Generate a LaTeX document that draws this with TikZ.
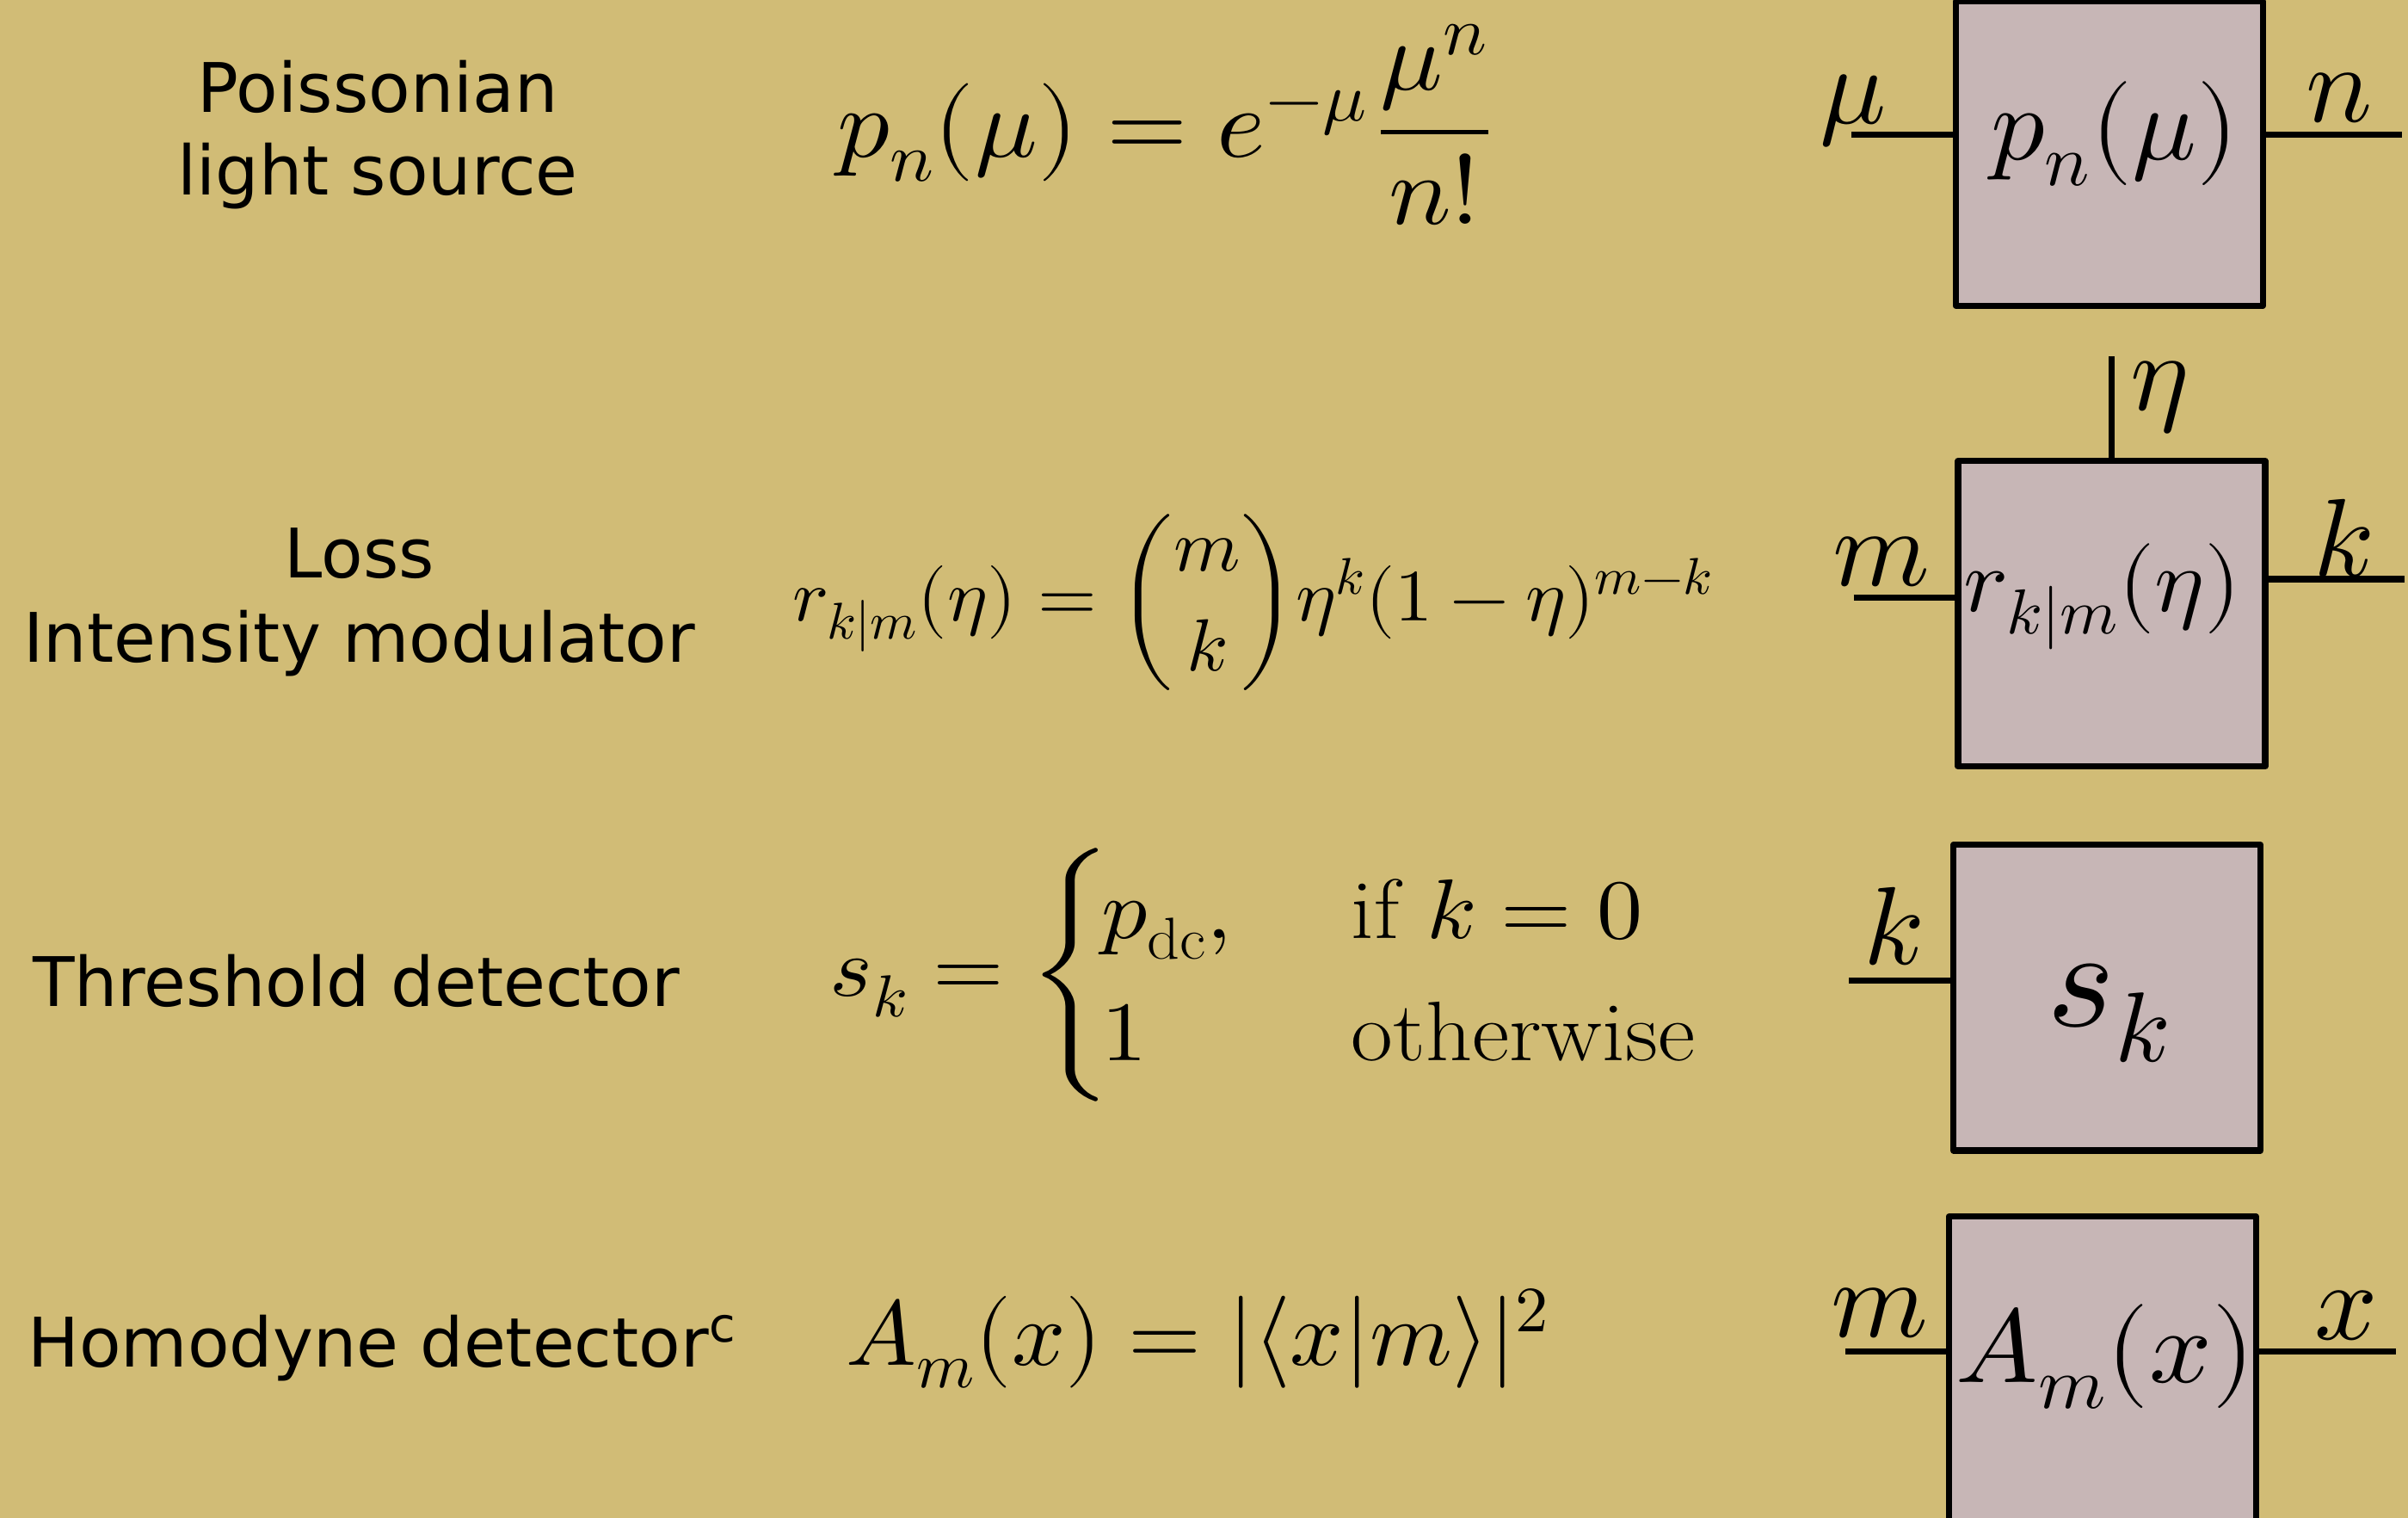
\documentclass[tikz,border=0pt]{standalone}
\usepackage{amsmath}
\usepackage{fontspec}
\usepackage{unicode-math}
\setmathfont{Latin Modern Math}
\newfontfamily\labfont{DejaVu Sans}
\definecolor{bg}{RGB}{209,188,118}
\definecolor{boxfill}{RGB}{199,182,182}
\begin{document}
\begin{tikzpicture}[x=1pt,y=-1pt,
  lab/.style={font=\labfont\fontsize{44.5}{54}\selectfont, inner sep=0, anchor=base},
  eqn/.style={inner sep=0, anchor=base west},
  boxtxt/.style={inner sep=0, anchor=base},
  port/.style={inner sep=0, anchor=base, font=\fontsize{72}{86}\selectfont},
  blk/.style={draw=black, fill=boxfill, line width=4pt, line join=round, inner sep=0, minimum width=200pt, minimum height=199pt},
  wire/.style={draw=black, line width=4pt}
]
\useasboundingbox (0,0) rectangle (1568,988);
\fill[bg] (0,0) rectangle (1568,988);

% left labels
\node[lab] (l1a) at (246,73) {Poissonian};
\node[lab] (l1b) at (246,127) {light source};
\node[lab] (l2a) at (234,376) {Loss};
\node[lab] (l2b) at (234,431) {Intensity modulator};
\node[lab] (l3) at (232,655) {Threshold detector};
\node[lab, anchor=base west] (l4) at (18,890) {Homodyne detector\textsuperscript{c}};

% equations
\node[eqn, xscale=1.06, font=\fontsize{64}{77}\selectfont] (e1) at (545,102)
  {$\displaystyle p_n(\mu) = e^{-\mu}\mkern2mu\frac{\mu^n}{n!}$};
\node[eqn, xscale=1.03, font=\fontsize{48}{58}\selectfont] (e2) at (516,404)
  {$\displaystyle r_{k|m}(\eta) = \binom{m}{k}\eta^k(1-\eta)^{m-k}$};
\node[eqn, xscale=1.08, font=\fontsize{55}{66}\selectfont] (e3) at (540,648.5)
  {$s_k = \left\lbrace\mkern-2mu\def\arraystretch{1.2}\begin{array}{@{}l@{\hspace{1.31em}}l@{}} p_{\mathrm{dc}}, & \text{if } k=0\\ 1 & \text{otherwise}\end{array}\right.$};
\node[eqn, xscale=1.02, font=\fontsize{60}{72}\selectfont] (e4) at (551,888.6)
  {$A_m(x) = |\langle x|m\rangle|^2$};

% connector end points
\coordinate (in1) at (1205.6,87.5);
\coordinate (out1) at (1564,87.5);
\coordinate (eta) at (1375,232);
\coordinate (in2) at (1207,389);
\coordinate (out2) at (1566,377);
\coordinate (in3) at (1204,638.5);
\coordinate (in4) at (1201.5,880);
\coordinate (out4) at (1560,880);

% boxes
\node[blk, minimum height=198pt] (b1) at (1373.5,100) {};
\node[blk] (b2) at (1375,399.5) {};
\node[blk] (b3) at (1372,649.5) {};
\node[blk, minimum height=200pt] (b4) at (1369,892) {};

% wires
\draw[wire] (in1) -- (in1 -| b1.west);
\draw[wire] (b1.east |- out1) -- (out1);
\draw[wire] (eta) -- (eta |- b2.north);
\draw[wire] (in2) -- (in2 -| b2.west);
\draw[wire] (b2.east |- out2) -- (out2);
\draw[wire] (in3) -- (in3 -| b3.west);
\draw[wire] (in4) -- (in4 -| b4.west);
\draw[wire] (b4.east |- out4) -- (out4);

% box contents
\node[boxtxt, xscale=1.026, font=\fontsize{68}{80}\selectfont] (t1) at (1377,104) {$p_n(\mu)$};
\node[boxtxt, xscale=1.037, font=\fontsize{59}{70}\selectfont] (t2) at (1369,398) {$r_{k|m}(\eta)$};
\node[boxtxt, xscale=1.024, font=\fontsize{92}{110}\selectfont] (t3) at (1373,668) {$s_k$};
\node[boxtxt, xscale=1.05, font=\fontsize{68}{80}\selectfont] (t4) at (1371,900) {$A_m(x)$};

% port labels
\node[port] (pmu) at (1207,80.5) {$\mu$};
\node[port] (pn) at (1523,79) {$n$};
\node[port] (peta) at (1406,267) {$\eta$};
\node[port] (pm2) at (1225,381) {$m$};
\node[port] (pk2) at (1526,375) {$k$};
\node[port] (pk3) at (1233,627.5) {$k$};
\node[port] (pm4) at (1224,870) {$m$};
\node[port] (px4) at (1528,872) {$x$};
\end{tikzpicture}
\end{document}
